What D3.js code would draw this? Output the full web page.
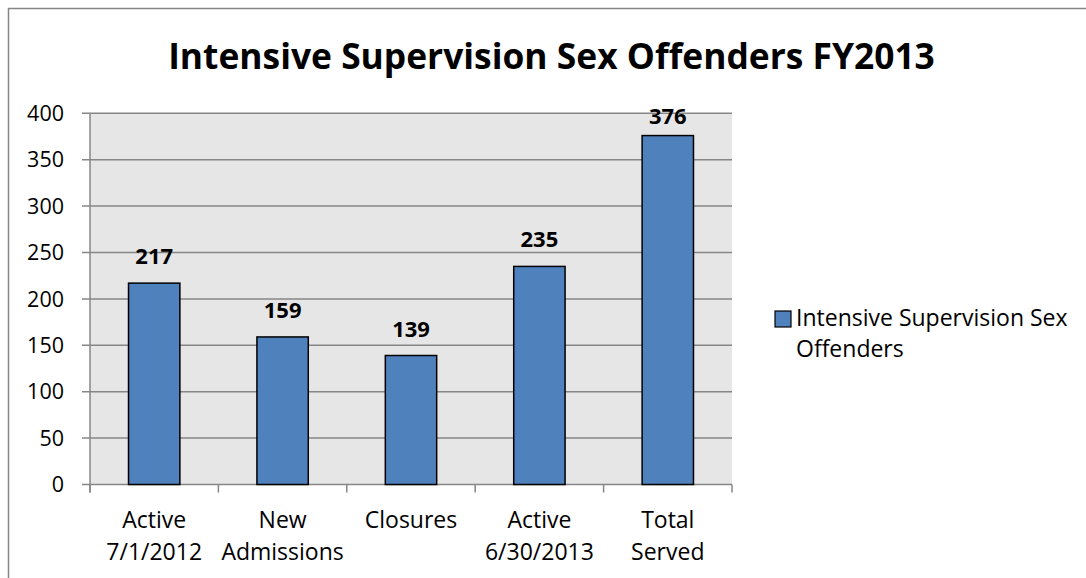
<!DOCTYPE html>
<html><head><meta charset="utf-8">
<script src="https://cdn.jsdelivr.net/npm/d3@7"></script>
<style>body{margin:0;background:#fff}svg{display:block}</style>
</head><body>
<svg id="c" width="1086" height="578"></svg>
<script>
const title = "Intensive Supervision Sex Offenders FY2013";
const seriesName = "Intensive Supervision Sex Offenders";
const legendLines = ["Intensive Supervision Sex", "Offenders"];
const categories = [["Active","7/1/2012"],["New","Admissions"],["Closures"],["Active","6/30/2013"],["Total","Served"]];
const values = [217, 159, 139, 235, 376];
const yTicks = [0,50,100,150,200,250,300,350,400];

const FONT = "'Open Sans', 'Liberation Sans', sans-serif";
const svg = d3.select("#c");
const grid = "#868686";

// frame (top & left visible)
svg.append("line").attr("x1",8).attr("y1",8.5).attr("x2",1086).attr("y2",8.5).attr("stroke",grid).attr("stroke-width",1.5);
svg.append("line").attr("x1",8.5).attr("y1",8).attr("x2",8.5).attr("y2",578).attr("stroke",grid).attr("stroke-width",1.5);

const L = 90, R = 732, T = 113.3, B = 484.5;
const x = d3.scaleBand().domain(d3.range(categories.length)).range([L,R]).paddingInner(0.6).paddingOuter(0.3);
const y = d3.scaleLinear().domain([0,400]).range([B,T]);

svg.append("rect").attr("x",L).attr("y",T).attr("width",R-L).attr("height",B-T).attr("fill","#e6e6e6");

// gridlines
svg.append("g").selectAll("line").data(yTicks).join("line")
  .attr("x1",L-8).attr("x2",R).attr("y1",d=>y(d)).attr("y2",d=>y(d))
  .attr("stroke",grid).attr("stroke-width",1.5);
// y axis line
svg.append("line").attr("x1",L).attr("x2",L).attr("y1",T).attr("y2",B+8).attr("stroke",grid).attr("stroke-width",1.5);
// x category ticks
const step = (R-L)/categories.length;
svg.append("g").selectAll("line").data(d3.range(categories.length+1)).join("line")
  .attr("x1",i=>L+i*step).attr("x2",i=>L+i*step).attr("y1",B).attr("y2",B+8)
  .attr("stroke",grid).attr("stroke-width",1.5);

// y tick labels
svg.append("g").selectAll("text").data(yTicks).join("text")
  .attr("x",64).attr("y",d=>y(d)).attr("dy","0.36em").attr("text-anchor","end")
  .attr("font-family",FONT).attr("font-size",21.5).attr("fill","#000").text(d=>d);

// bars
svg.append("g").selectAll("rect").data(values).join("rect")
  .attr("x",(d,i)=>x(i)).attr("width",x.bandwidth())
  .attr("y",d=>y(d)).attr("height",d=>B-y(d))
  .attr("fill","#4f81bd").attr("stroke","#000").attr("stroke-width",1.5);

// value labels
svg.append("g").selectAll("text").data(values).join("text")
  .attr("x",(d,i)=>x(i)+x.bandwidth()/2)
  .attr("y",d=>Math.max(y(d)-19, T+11))
  .attr("text-anchor","middle").attr("font-family",FONT).attr("font-weight","bold")
  .attr("font-size",22).attr("fill","#000").text(d=>d);

// category labels
const cg = svg.append("g");
categories.forEach((lines,i)=>{
  const cx = L + (i+0.5)*step;
  const t = cg.append("text").attr("text-anchor","middle").attr("font-family",FONT).attr("font-size",23).attr("fill","#000");
  lines.forEach((s,j)=>{
    t.append("tspan").attr("x",cx).attr("y",528+j*32).text(s);
  });
});

// title
const tt = svg.append("text").attr("x",551.5).attr("y",69).attr("text-anchor","middle")
  .attr("font-family",FONT).attr("font-weight","bold").attr("font-size",30).attr("fill","#000").text(title);
const w = tt.node().getComputedTextLength();
tt.attr("font-size", 30*767/w);

// legend
svg.append("rect").attr("x",775).attr("y",311).attr("width",16).attr("height",16)
  .attr("fill","#4f81bd").attr("stroke","#000").attr("stroke-width",1.2);
const lt = svg.append("text").attr("font-family",FONT).attr("font-size",23).attr("fill","#000");
legendLines.forEach((s,j)=>lt.append("tspan").attr("x",796).attr("y",326+j*31).text(s));
</script>
</body></html>
